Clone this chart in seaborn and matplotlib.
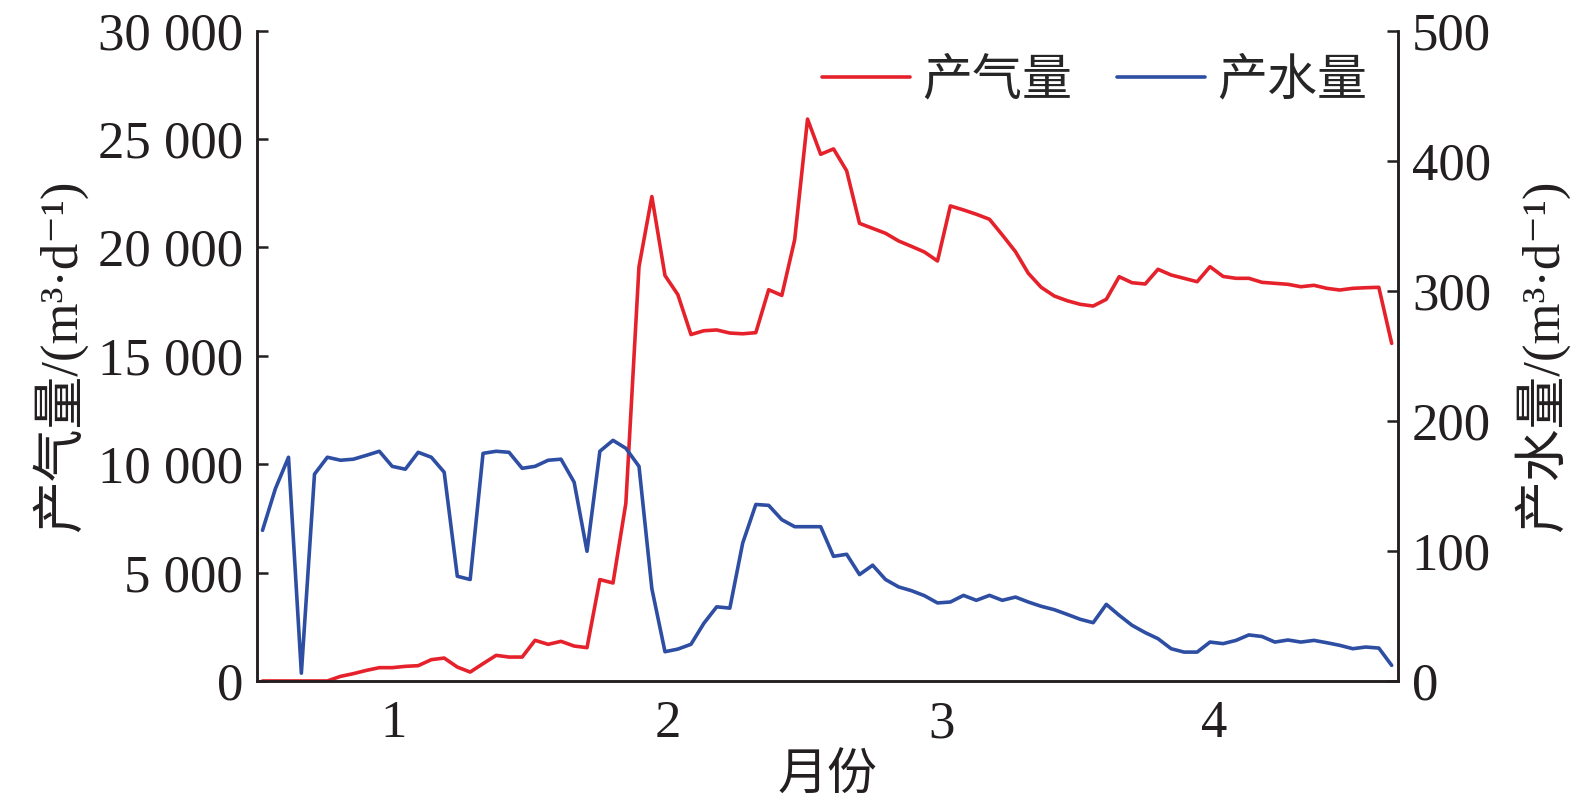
import matplotlib
matplotlib.use("Agg")
import matplotlib.pyplot as plt
import seaborn as sns
import pandas as pd

# 时间（月份）
months = [0.520, 0.567, 0.615, 0.662, 0.710, 0.757, 0.805, 0.852, 0.900, 0.947,
          0.994, 1.042, 1.089, 1.137, 1.184, 1.232, 1.279, 1.326, 1.374, 1.421,
          1.469, 1.516, 1.564, 1.611, 1.659, 1.706, 1.753, 1.801, 1.848, 1.896,
          1.943, 1.991, 2.038, 2.086, 2.133, 2.180, 2.228, 2.275, 2.323, 2.370,
          2.418, 2.465, 2.512, 2.560, 2.607, 2.655, 2.702, 2.750, 2.797, 2.845,
          2.892, 2.939, 2.987, 3.034, 3.082, 3.129, 3.177, 3.224, 3.272, 3.319,
          3.366, 3.414, 3.461, 3.509, 3.556, 3.604, 3.651, 3.698, 3.746, 3.793,
          3.841, 3.888, 3.936, 3.983, 4.031, 4.078, 4.125, 4.173, 4.220, 4.268,
          4.315, 4.363, 4.410, 4.457, 4.505, 4.552, 4.600, 4.647]

# 产气量 (m3/d)
gas = [0, 0, 0, 0, 0, 0, 212, 337, 489, 614,
       614, 674, 706, 983, 1057, 642, 411, 799, 1182, 1103,
       1103, 1875, 1690, 1828, 1611, 1537, 4677, 4520, 8200, 19110,
       22346, 18704, 17822, 15980, 16155, 16192, 16049, 16016, 16067, 18048,
       17785, 20352, 25920, 24295, 24544, 23533, 21109, 20878, 20652, 20296,
       20047, 19790, 19373, 21913, 21728, 21529, 21298, 20573, 19802, 18805,
       18159, 17757, 17540, 17374, 17295, 17605, 18648, 18371, 18311, 18990,
       18727, 18574, 18417, 19110, 18660, 18574, 18574, 18389, 18343, 18297,
       18186, 18251, 18112, 18034, 18112, 18140, 18159, 15573]

# 产水量 (m3/d)
water = [115.8, 147.8, 172, 6, 159, 172, 169.7, 170.5, 173.5, 176.6,
         165, 162.8, 175.8, 172, 160.5, 80.5, 78, 175, 176.6, 175.8,
         163.5, 165, 169.7, 170.5, 152.8, 99.7, 176.6, 185, 178.9, 165,
         71, 22.5, 24.5, 28.2, 44.3, 57, 56, 106, 135.7, 135,
         124, 118.6, 118.6, 118.6, 95.8, 97.4, 81.8, 89, 78, 72.3,
         69.4, 65.6, 60, 60.7, 65.8, 62, 65.8, 62, 64.5, 60.7,
         57.4, 54.8, 51.2, 47.4, 44.8, 58.9, 50.5, 42.8, 37.2, 32.5,
         24.8, 22.2, 22.2, 29.9, 28.7, 31.2, 35.4, 34.2, 29.9, 31.5,
         29.9, 31.2, 29.4, 27.4, 24.8, 26.1, 25.3, 12]

gas_ticks = [0, 5000, 10000, 15000, 20000, 25000, 30000]
gas_ticklabels = ["0", "5 000", "10 000", "15 000", "20 000", "25 000", "30 000"]
water_ticks = [0, 100, 200, 300, 400, 500]
month_ticks = [1, 2, 3, 4]

df = pd.DataFrame({"月份": months, "产气量": gas, "产水量": water})

sns.set_theme(style="white")
plt.rcParams["font.family"] = ["Liberation Serif", "Noto Sans CJK SC", "DejaVu Serif"]
plt.rcParams["axes.unicode_minus"] = False

red = "#E5222B"
blue = "#2D4EA2"
ink = "#231F20"
fs_tick = 38
fs = 36

fig = plt.figure(figsize=(15.75, 8.1), dpi=100)
ax = fig.add_axes([0.1632, 0.1593, 0.7244, 0.8029])
ax2 = ax.twinx()

sns.lineplot(data=df, x="月份", y="产气量", ax=ax, color=red, linewidth=2.6, label="产气量", legend=False)
sns.lineplot(data=df, x="月份", y="产水量", ax=ax2, color=blue, linewidth=2.6, label="产水量", legend=False)

ax.set_xlim(0.5, 4.67)
ax.set_ylim(0, 30000)
ax2.set_ylim(0, 500)
ax.set_xticks(month_ticks)
ax.set_yticks(gas_ticks)
ax.set_yticklabels(gas_ticklabels)
ax2.set_yticks(water_ticks)

for a in (ax, ax2):
    a.spines["top"].set_visible(False)
    for s in a.spines.values():
        s.set_linewidth(1.8)
        s.set_color(ink)
    a.tick_params(direction="in", length=8, width=1.8, colors=ink, labelsize=fs_tick)
    a.grid(False)

ax.tick_params(axis="x", pad=14)
ax.tick_params(axis="y", pad=10)
ax2.tick_params(axis="y", pad=10)

ax.set_xlabel("月份", fontsize=fs, color=ink, labelpad=4)
ax.set_ylabel("产气量/(m³·d⁻¹)", fontsize=fs + 2, color=ink, labelpad=8)
ax2.set_ylabel("产水量/(m³·d⁻¹)", fontsize=fs + 2, color=ink, labelpad=16, rotation=90)

h1, l1 = ax.get_legend_handles_labels()
h2, l2 = ax2.get_legend_handles_labels()
ax2.legend(h1 + h2, l1 + l2, loc="upper right", ncol=2, frameon=False, fontsize=fs,
           handlelength=1.75, handletextpad=0.25, columnspacing=0.9,
           borderaxespad=0.1, bbox_to_anchor=(0.995, 0.995))

fig.savefig("out.png", dpi=100)
